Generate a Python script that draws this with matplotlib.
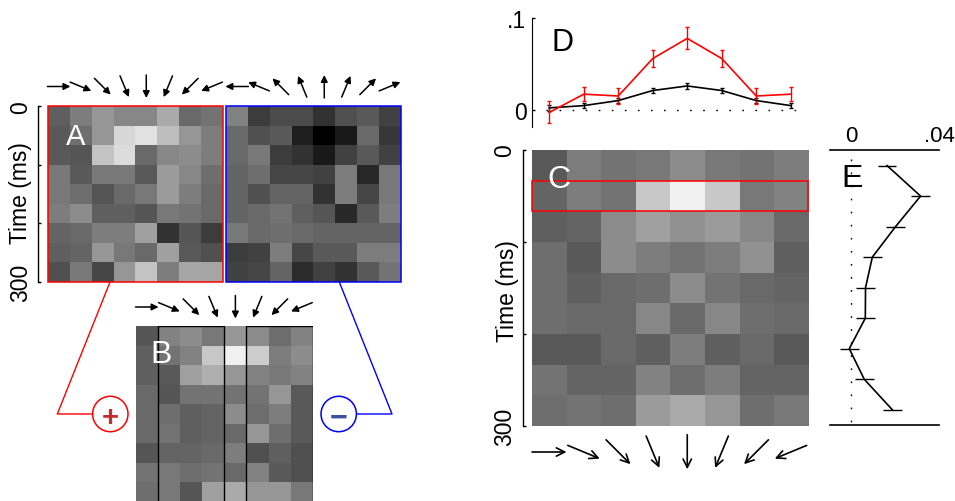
import numpy as np
import matplotlib
matplotlib.use("Agg")
import matplotlib.pyplot as plt
from matplotlib.patches import Rectangle, Circle

plt.rcParams['font.family'] = ['Liberation Sans', 'DejaVu Sans']

W, H = 955, 502

# ── Data (grey levels 0-255) ─────────────────────────────────────────────────
a_pref = [[ 95, 125, 150, 135, 135, 170, 105, 115],
          [ 90, 110, 150, 215, 225, 190, 150, 125],
          [ 90,  85, 195, 220, 105, 135, 140, 125],
          [120,  90, 120, 120,  90, 155, 135, 110],
          [120, 110,  85, 105, 120, 155, 125, 105],
          [125, 140,  95,  95,  85, 120, 115, 105],
          [100, 105, 125, 125, 160,  50,  85,  60],
          [ 95, 100, 150, 120, 105, 160,  90,  80],
          [ 80, 120,  70, 150, 195, 125, 165, 165]]
a_null = [[130,  60,  75,  75,  50,  80,  90,  65],
          [105,  80,  90,  30,   0,  25, 105,  55],
          [105, 120,  60,  50,  25,  65,  90,  65],
          [100, 110,  70,  70,  65, 125,  40, 120],
          [100,  80, 100, 100,  50, 125,  70, 120],
          [100, 105, 115,  95,  85,  40,  90, 125],
          [120, 105, 110, 105, 100, 100, 100, 100],
          [ 60,  65, 125,  70,  90,  90, 125, 125],
          [ 65,  70, 100,  45,  65,  50,  90, 115]]
b_diff = [[ 85, 130, 140, 120, 150, 140, 110, 130],
          [ 95, 115, 130, 200, 240, 205, 125, 140],
          [ 95,  90, 160, 175, 150, 130, 120, 130],
          [105,  85, 115, 115, 115, 115, 150,  90],
          [105, 110,  95, 100, 140, 110, 125,  90],
          [105, 115,  95, 100, 105, 150, 110,  90],
          [ 85, 100, 100, 105, 125,  80,  95,  80],
          [115, 120, 110, 115, 105, 130,  90,  80],
          [110, 120,  85, 160, 170, 150, 150, 120]]
c_mean = [[ 90, 125, 115, 120, 140, 120, 115, 125],
          [100, 125, 115, 200, 240, 200, 120, 130],
          [ 95, 100, 140, 160, 145, 155, 135, 105],
          [110,  90, 140, 125, 115, 125, 145,  95],
          [110,  95, 105, 110, 140, 115, 105, 100],
          [110, 105, 105, 135, 105, 135, 110, 105],
          [ 90,  90, 105,  95, 125,  95, 105,  90],
          [115, 100, 100, 130, 110, 125, 100, 100],
          [110, 115, 110, 155, 170, 150, 110, 120]]

d_red       = [-0.003, 0.017, 0.015, 0.056, 0.078, 0.056, 0.015, 0.017]
d_red_err   = [0.012, 0.008, 0.009, 0.009, 0.012, 0.009, 0.009, 0.008]
d_black     = [0.002, 0.0045, 0.010, 0.021, 0.026, 0.021, 0.010, 0.0045]
d_black_err = [0.003, 0.003, 0.003, 0.0025, 0.003, 0.0025, 0.003, 0.003]

e_values = [0.0163, 0.0316, 0.0202, 0.0096, 0.0065, 0.0064, -0.0009, 0.0059, 0.0187]
e_err    = [0.0043] * 9

arrow_angles_pref = [0, -22.5, -45, -67.5, -90, -112.5, -135, -157.5]
arrow_angles_null = [180, 157.5, 135, 112.5, 90, 67.5, 45, 22.5]


def px_axes(x0, y0, x1, y1, **kw):
    # axes from pixel box, y counted from the top like in the picture
    return fig.add_axes([x0 / W, 1 - y1 / H, (x1 - x0) / W, (y1 - y0) / H], **kw)


def heat(box, values):
    ax = px_axes(*box)
    ax.imshow(values, cmap='gray', vmin=0, vmax=255, aspect='auto', interpolation='nearest')
    ax.set_xticks([])
    ax.set_yticks([])
    for s in ax.spines.values():
        s.set_visible(False)
    return ax


def time_axis(ax, offset_px, pad_px):
    ax.spines['left'].set_visible(True)
    ax.spines['left'].set_position(('outward', offset_px * 0.72))
    ax.spines['left'].set_linewidth(1.0)
    ax.set_yticks([-0.5, 2.5, 5.5, 8.5])
    ax.set_yticklabels(['0', '', '', '300'], rotation=90, va='center', fontsize=16.5)
    ax.tick_params(axis='y', direction='in', length=2.5, width=1.0, pad=pad_px * 0.72)


def arrows(ov, x0, x1, y, angles, length, style, head, lw):
    # one arrow per column, centred on the column
    step = (x1 - x0) / len(angles)
    for i, ang in enumerate(angles):
        xc = x0 + (i + 0.5) * step
        dx = np.cos(np.radians(ang)) * length / 2
        dy = -np.sin(np.radians(ang)) * length / 2
        ov.annotate('', xy=(xc + dx, y + dy), xytext=(xc - dx, y - dy),
                    arrowprops=dict(arrowstyle=style, color='black', lw=lw,
                                    shrinkA=0, shrinkB=0, mutation_scale=head))


fig = plt.figure(figsize=(W / 100, H / 100), dpi=100)

# ── Panel A ──────────────────────────────────────────────────────────────────
a_box = (48, 107.3, 222.7, 283)
n_box = (226, 107.3, 400.7, 283)
ax_a = heat(a_box, a_pref)
ax_n = heat(n_box, a_null)
time_axis(ax_a, 10, 6)
ax_a.add_patch(Rectangle((-0.5, -0.5), 8, 9, fill=False, ec='red', lw=1.1, clip_on=False))
ax_n.add_patch(Rectangle((-0.5, -0.5), 8, 9, fill=False, ec='blue', lw=1.1, clip_on=False))

# ── Panel B ──────────────────────────────────────────────────────────────────
b_box = (136, 327.3, 312.7, 502.8)
ax_b = heat(b_box, b_diff)
ax_b.add_patch(Rectangle((0.5, -0.5), 3, 9, fill=False, ec='black', lw=1.0))
ax_b.add_patch(Rectangle((4.5, -0.5), 3, 9, fill=False, ec='black', lw=1.0))

# ── Panel C ──────────────────────────────────────────────────────────────────
c_box = (532, 151, 808, 426.7)
ax_c = heat(c_box, c_mean)
time_axis(ax_c, 9.5, 6)
ax_c.add_patch(Rectangle((-0.5, 0.5), 8, 1, fill=False, ec='red', lw=1.1, clip_on=False))

# ── Panel D ──────────────────────────────────────────────────────────────────
ax_d = px_axes(532, 19.3, 808, 128)
xs = np.arange(8)
ax_d.set_xlim(-0.5, 7.5)
ax_d.set_ylim(-0.0189, 0.1)
ax_d.plot([-0.08, 7.22], [0, 0], color='black', lw=1.0, dashes=(1.2, 8.2))
ax_d.errorbar(xs, d_black, yerr=d_black_err, color='black', lw=1.2, elinewidth=1.0, capsize=1.7, capthick=1.0)
ax_d.errorbar(xs, d_red, yerr=d_red_err, color='red', lw=1.2, elinewidth=1.0, capsize=1.7, capthick=1.0)
ax_d.set_xticks([])
ax_d.set_yticks([0, 0.1])
ax_d.set_yticklabels(['0', '.1'], fontsize=16.5)
ax_d.tick_params(axis='y', direction='in', length=2.5, width=1.0, pad=4)
for name in ['top', 'right', 'bottom']:
    ax_d.spines[name].set_visible(False)
ax_d.patch.set_alpha(0)

# ── Panel E ──────────────────────────────────────────────────────────────────
ax_e = px_axes(830, 151.3, 939, 426)
ys = np.arange(9)
ax_e.set_xlim(-0.0097, 0.04)
ax_e.set_ylim(8.5, -0.5)
ax_e.plot([0, 0], [-0.2, 8.5], color='black', lw=1.0, dashes=(1.2, 8.2))
ax_e.plot(e_values, ys, color='black', lw=1.2)
ax_e.errorbar(e_values, ys, xerr=e_err, fmt='none', ecolor='black', elinewidth=1.0)
ax_e.set_yticks([])
ax_e.set_xticks([0, 0.04])
ax_e.set_xticklabels(['0', '.04'], fontsize=16)
ax_e.xaxis.tick_top()
ax_e.tick_params(axis='x', length=0, pad=3)
for name in ['left', 'right']:
    ax_e.spines[name].set_visible(False)
for name in ['top', 'bottom']:
    ax_e.spines[name].set_linewidth(1.2)

# ── Overlay in pixel coordinates: arrows, connectors, letters ────────────────
ov = fig.add_axes([0, 0, 1, 1], zorder=10)
ov.set_xlim(0, W)
ov.set_ylim(H, 0)
ov.axis('off')

arrows(ov, 48, 222.7, 87.5, arrow_angles_pref, 23, '-|>', 10, 1.1)
arrows(ov, 226, 400.7, 87.5, arrow_angles_null, 23, '-|>', 10, 1.1)
arrows(ov, 136, 312.7, 308, arrow_angles_pref, 23, '-|>', 10, 1.1)
arrows(ov, 532, 808, 453, arrow_angles_pref, 34.5, '->', 15, 1.2)

ov.plot([110, 57.3, 92.7], [283, 415, 415], color='red', lw=1.0)
ov.plot([339.3, 392, 356.7], [283, 415, 415], color='blue', lw=1.0)
ov.add_patch(Circle((110.3, 415), 17.7, fill=False, ec='red', lw=1.1))
ov.add_patch(Circle((338.7, 415), 17.7, fill=False, ec='blue', lw=1.1))
ov.text(110.3, 415, '+', color='#c03030', fontsize=21, fontweight='bold', ha='center', va='center_baseline')
ov.text(338.7, 415, '\u2212', color='#3f4fa0', fontsize=22, fontweight='bold', ha='center', va='center_baseline')

ov.text(76, 137, 'A', color='white', fontsize=21, ha='center', va='center')
ov.text(161, 355, 'B', color='white', fontsize=23, ha='center', va='center')
ov.text(559, 180, 'C', color='white', fontsize=23, ha='center', va='center')
ov.text(562, 43, 'D', color='black', fontsize=22, ha='center', va='center')
ov.text(852, 179, 'E', color='black', fontsize=23, ha='center', va='center')
ov.text(20, 193, 'Time (ms)', fontsize=16.5, rotation=90, ha='center', va='center')
ov.text(507, 291, 'Time (ms)', fontsize=16.5, rotation=90, ha='center', va='center')

fig.savefig('out.png', dpi=100)
